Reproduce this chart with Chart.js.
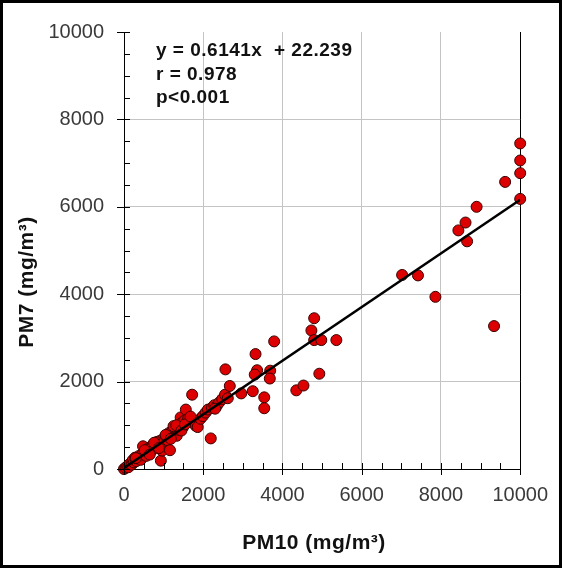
<!DOCTYPE html>
<html>
<head>
<meta charset="utf-8">
<script src="https://cdn.jsdelivr.net/npm/chart.js@4.4.0/dist/chart.umd.min.js"></script>
<style>
  body { margin: 0; background: #fff; }
  canvas { display: block; }
</style>
</head>
<body>
<canvas id="chart" width="562" height="568"></canvas>
<script>
// PM10 vs PM7 (mg/m3)
const pm10 = [
  0, 40, 80, 110, 150, 190, 220, 250, 280, 310, 350, 380, 420, 460, 480, 520,
  560, 590, 620, 660, 700, 730, 770, 800, 830, 870, 900, 930, 960, 990, 1020,
  1060, 1100, 1130, 1160, 1190, 1220, 1260, 1300, 1330, 1360, 1400, 1430, 1460,
  1490, 1520, 1560, 1590, 1620, 1720, 1760, 1810, 1860, 1930, 1990, 2060, 2120,
  2190, 2220, 2280, 2340, 2400, 2480, 2550, 2560, 2620, 2670,
  300, 520, 650, 760, 880, 1050, 1180, 1250, 1320, 1450, 1540, 1680, 2300,
  2960, 3250, 3320, 3360, 3300, 3690, 3680, 3540, 3540, 3790, 4350, 4530, 4930,
  4800, 4730, 4800, 4980, 5360, 7020, 7420, 7860, 9340, 8440, 8620, 8660, 8900,
  9620, 10000, 10000, 10000, 10000
];
const pm7 = [
  0, 30, 60, 40, 120, 100, 200, 150, 260, 180, 240, 300, 210, 330, 520, 360,
  300, 440, 480, 380, 520, 560, 470, 560, 620, 520, 640, 190, 420, 690, 650,
  740, 660, 820, 430, 780, 880, 830, 920, 760, 900, 980, 1180, 1060,
  960, 1100, 1360, 1080, 1150, 1700, 1060, 990, 960, 1150, 1210, 1290, 1360,
  700, 1400, 1460, 1440, 1520, 1600, 1700, 2280, 1620, 1900,
  250, 430, 330, 600, 480, 780, 690, 980, 1000, 880, 1020, 1200, 1380,
  1730, 1780, 2630, 2260, 2160, 2250, 2070, 1640, 1390, 2920, 1800, 1910, 2180,
  3450, 3170, 2950, 2950, 2950, 4440, 4430, 3940, 3270, 5460, 5640, 5210, 6000,
  6570, 7450, 7060, 6770, 6180
];

// regression line y = 0.6141x + 22.239, end points
const fitX = [0, 10000];
const fitY = [22.239, 6163.2];

const axisTicks = [0, 2000, 4000, 6000, 8000, 10000];
const annotation = ['y = 0.6141x  + 22.239', 'r = 0.978', 'p<0.001'];

const FONT = "'Liberation Sans', Arial, sans-serif";

const extras = {
  id: 'extras',
  afterDraw(chart) {
    const ctx = chart.ctx;
    const xs = chart.scales.x, ys = chart.scales.y;
    const x0 = xs.getPixelForValue(0), y0 = ys.getPixelForValue(0);
    ctx.save();
    ctx.strokeStyle = '#000';
    ctx.lineWidth = 1;
    // minor ticks every 500, inside
    for (let v = 500; v < 10000; v += 500) {
      if (v % 2000 === 0) continue;
      const px = Math.round(xs.getPixelForValue(v)) + 0.5;
      ctx.beginPath(); ctx.moveTo(px, y0); ctx.lineTo(px, y0 - 6); ctx.stroke();
      const py = Math.round(ys.getPixelForValue(v)) + 0.5;
      ctx.beginPath(); ctx.moveTo(x0, py); ctx.lineTo(x0 + 6, py); ctx.stroke();
    }
    // major ticks crossing the axes
    axisTicks.forEach(v => {
      const px = Math.round(xs.getPixelForValue(v)) + 0.5;
      ctx.beginPath(); ctx.moveTo(px, y0 - 6); ctx.lineTo(px, y0 + 6); ctx.stroke();
      const py = Math.round(ys.getPixelForValue(v)) + 0.5;
      ctx.beginPath(); ctx.moveTo(x0 - 7, py); ctx.lineTo(x0 + 6, py); ctx.stroke();
    });

    // annotation
    ctx.fillStyle = '#111';
    ctx.font = 'bold 19px ' + FONT;
    ctx.letterSpacing = '0.5px';
    ctx.textAlign = 'left';
    ctx.textBaseline = 'middle';
    annotation.forEach((t, i) => ctx.fillText(t, 156, 51 + i * 23.5));

    // axis titles
    ctx.letterSpacing = '0.5px';
    ctx.font = 'bold 21px ' + FONT;
    ctx.textAlign = 'center';
    ctx.fillText('PM10 (mg/m³)', 314, 543);
    ctx.translate(27, 282);
    ctx.rotate(-Math.PI / 2);
    ctx.fillText('PM7 (mg/m³)', 0, 0);
    ctx.restore();

    // outer frame
    ctx.save();
    ctx.strokeStyle = '#000';
    ctx.lineWidth = 3;
    ctx.strokeRect(1.5, 1.5, chart.width - 3, chart.height - 3);
    ctx.restore();
  }
};

new Chart(document.getElementById('chart'), {
  type: 'scatter',
  data: {
    datasets: [
      {
        type: 'line',
        data: fitX.map((x, i) => ({ x: x, y: fitY[i] })),
        borderColor: '#000',
        borderWidth: 2.5,
        pointRadius: 0,
        fill: false
      },
      {
        data: pm10.map((x, i) => ({ x: x, y: pm7[i] })),
        backgroundColor: '#dd0000',
        borderColor: '#3a0000',
        borderWidth: 1,
        pointRadius: 5.5,
        clip: false
      }
    ]
  },
  options: {
    responsive: false,
    animation: false,
    layout: { padding: { top: 17, right: 40, left: 0, bottom: 0 } },
    plugins: { legend: { display: false }, tooltip: { enabled: false } },
    scales: {
      x: {
        type: 'linear',
        min: 0, max: 10000,
        afterFit: s => { s.height = 99; },
        afterBuildTicks: s => { s.ticks = axisTicks.map(v => ({ value: v })); },
        ticks: { color: '#3a3a3a', font: { family: FONT, size: 20 }, padding: 14, callback: v => String(v) },
        grid: {
          drawTicks: false,
          lineWidth: 1,
          color: c => c.tick.value === 10000 ? '#000' : '#c4c4c4'
        },
        border: { color: '#000', width: 1 }
      },
      y: {
        type: 'linear',
        min: 0, max: 10000,
        afterFit: s => { s.width = 124; },
        afterBuildTicks: s => { s.ticks = axisTicks.map(v => ({ value: v })); },
        ticks: { color: '#3a3a3a', font: { family: FONT, size: 20 }, padding: 20, callback: v => String(v) },
        grid: {
          drawTicks: false,
          lineWidth: 1,
          color: c => c.tick.value === 10000 ? 'rgba(0,0,0,0)' : '#c4c4c4'
        },
        border: { color: '#000', width: 1 }
      }
    }
  },
  plugins: [extras]
});
</script>
</body>
</html>
